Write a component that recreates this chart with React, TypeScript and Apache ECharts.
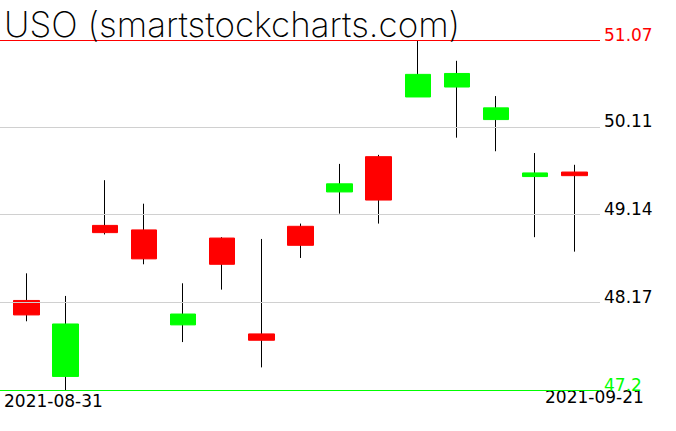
import React, { useEffect, useRef } from "react";
import * as echarts from "echarts";

const TITLE = "USO (smartstockcharts.com)";
const dates = [
  "2021-08-31", "2021-09-01", "2021-09-02", "2021-09-03", "2021-09-07",
  "2021-09-08", "2021-09-09", "2021-09-10", "2021-09-13", "2021-09-14",
  "2021-09-15", "2021-09-16", "2021-09-17", "2021-09-20", "2021-09-21",
];
const opens = [48.19, 47.35, 49.02, 48.97, 47.92, 48.88, 47.82, 49.01, 49.39, 49.78, 50.44, 50.55, 50.19, 49.56, 49.61];
const highs = [48.49, 48.24, 49.52, 49.26, 48.38, 48.89, 48.87, 49.04, 49.70, 49.80, 51.07, 50.84, 50.45, 49.82, 49.69];
const lows = [47.96, 47.2, 48.92, 48.59, 47.73, 48.31, 47.45, 48.66, 49.15, 49.04, 50.44, 49.99, 49.84, 48.89, 48.73];
const closes = [48.03, 47.93, 48.94, 48.65, 48.04, 48.59, 47.75, 48.8, 49.48, 49.3, 50.69, 50.7, 50.32, 49.6, 49.57];
const levels = [51.07, 50.11, 49.14, 48.17, 47.2];
const levelColors = ["#ff0000", "#000000", "#000000", "#000000", "#00ff00"];
const lineColors = ["#ff0000", "#d0d0d0", "#d0d0d0", "#d0d0d0", "#00ff00"];

const FONT = "DejaVu Sans";

export default function App() {
  const ref = useRef<HTMLDivElement>(null);
  useEffect(() => {
    if (!ref.current) return;
    const chart = echarts.init(ref.current, null, { renderer: "svg" });
    const wickData = dates.map((_, i) => [i, opens[i], closes[i], lows[i], highs[i]]);
    const bodyData = dates.map((_, i) => [
      i, opens[i], closes[i], Math.min(opens[i], closes[i]), Math.max(opens[i], closes[i]),
    ]);
    chart.setOption({
      animation: false,
      backgroundColor: "#ffffff",
      grid: { left: 0, top: 40, width: 600, height: 350, containLabel: false },
      xAxis: { type: "value", min: -0.6772, max: 14.656, show: false },
      yAxis: { type: "value", min: levels[levels.length - 1], max: levels[0], show: false, splitLine: { show: false } },
      title: {
        text: TITLE,
        left: 4,
        top: 6,
        padding: 0,
        textStyle: { fontFamily: "Inter", fontSize: 35, fontWeight: 200, color: "#000" },
      },
      graphic: [
        { type: "text", left: 4, top: 392, style: { text: dates[0], fontFamily: FONT, fontSize: 17, fill: "#000" } },
        { type: "text", left: 545, top: 388, style: { text: dates[dates.length - 1], fontFamily: FONT, fontSize: 17, fill: "#000" } },
      ],
      series: [
        {
          type: "candlestick",
          data: wickData,
          barWidth: 1,
          itemStyle: { color: "#000", color0: "#000", borderColor: "#000", borderColor0: "#000", borderWidth: 1 },
          silent: true,
        },
        {
          type: "candlestick",
          data: bodyData,
          barWidth: 26,
          itemStyle: { color: "#00ff00", color0: "#ff0000", borderColor: "#00ff00", borderColor0: "#ff0000", borderWidth: 1 },
          silent: true,
          markLine: {
            silent: true,
            symbol: "none",
            animation: false,
            data: levels.map((v, i) => ({
              yAxis: v,
              lineStyle: { color: lineColors[i], width: 1, type: "solid" },
              label: {
                show: true,
                position: "end",
                distance: 4,
                formatter: String(v),
                color: levelColors[i],
                fontFamily: FONT,
                fontSize: 17,
                lineHeight: 11,
                verticalAlign: "bottom",
              },
            })),
          },
        },
      ],
    });
    return () => chart.dispose();
  }, []);
  return <div ref={ref} style={{ width: 676, height: 431, position: "absolute", left: 0, top: 0 }} />;
}
